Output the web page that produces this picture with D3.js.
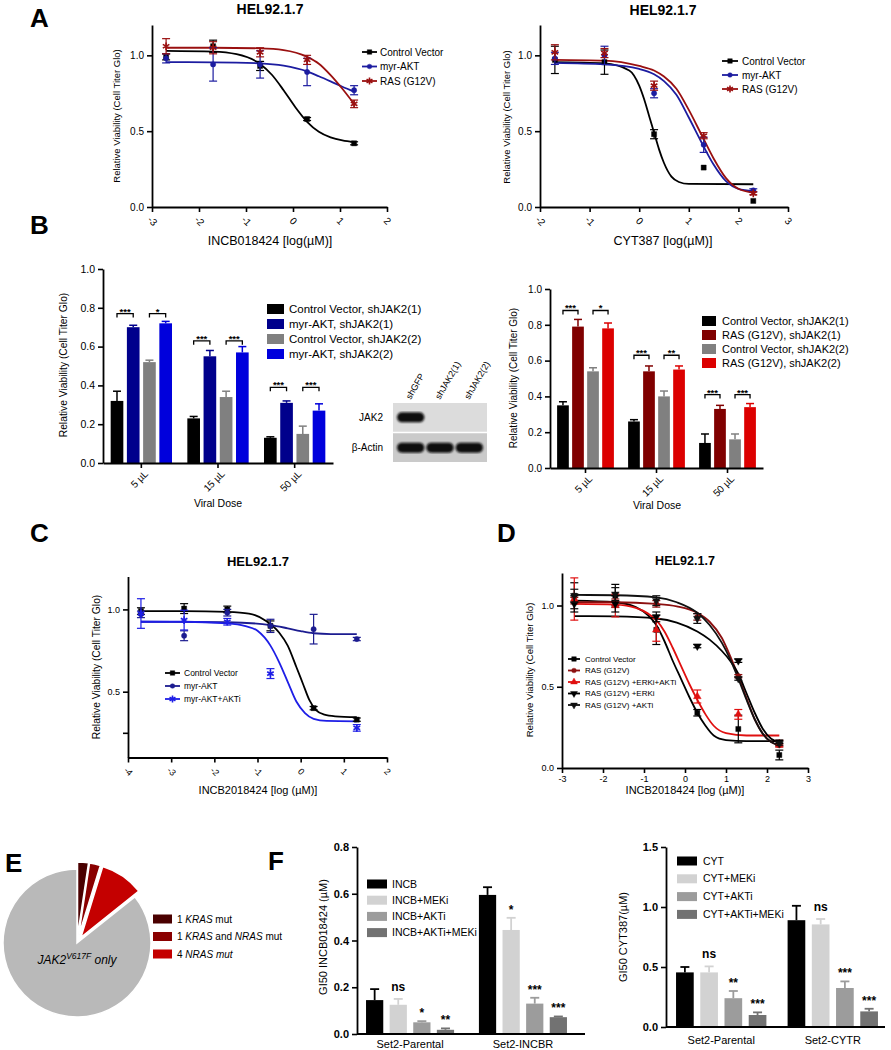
<!DOCTYPE html>
<html>
<head>
<meta charset="utf-8">
<script src="https://cdn.jsdelivr.net/npm/d3@7"></script>
<style>
  body { margin: 0; background: #fff; }
  svg { display: block; }
</style>
</head>
<body>
<svg width="891" height="1050" font-family="'Liberation Sans', Arial, sans-serif"></svg>
<script>
const FONT = "'Liberation Sans', Arial, sans-serif";
const svg = d3.select('svg');

// ---------- A: dose response (INCB018424 / CYT387) ----------
const aDoseLeft = [-2.7, -1.7, -0.7, 0.3, 1.3];
const aLeftCtrl = [0.99, 1.06, 0.93, 0.58, 0.42];
const aLeftCtrlErr = [0.02, 0.04, 0.03, 0.01, 0.01];
const aLeftAkt = [0.98, 0.94, 0.94, 0.89, 0.77];
const aLeftAktErr = [0.03, 0.11, 0.09, 0.09, 0.03];
const aLeftRas = [1.06, 1.05, 1.02, 0.97, 0.68];
const aLeftRasErr = [0.05, 0.04, 0.03, 0.03, 0.025];
const aLeftCtrlFit = [[-2.7, 1.03], [-1.7, 1.025], [-1.2, 1.008], [-0.7, 0.943], [-0.45, 0.872], [-0.2, 0.77], [0.05, 0.658], [0.3, 0.562], [0.55, 0.496], [0.8, 0.459], [1.05, 0.439], [1.3, 0.429]];
const aLeftAktFit = [[-2.7, 0.955], [-1.7, 0.954], [-0.7, 0.947], [-0.2, 0.932], [0.3, 0.894], [0.55, 0.862], [0.8, 0.828], [1.05, 0.793], [1.3, 0.761]];
const aLeftRasFit = [[-2.7, 1.05], [-1.7, 1.05], [-0.7, 1.046], [-0.2, 1.035], [0.3, 0.99], [0.55, 0.945], [0.8, 0.87], [1.05, 0.78], [1.3, 0.68]];

const aDoseRight = [-1.7, -0.7, 0.3, 1.3, 2.3];
const aRightCtrl = [0.97, 0.955, 0.48, 0.26, 0.04];
const aRightCtrlErr = [0.09, 0.08, 0.03, 0, 0];
const aRightAkt = [0.98, 1.0, 0.75, 0.41, 0.11];
const aRightAktErr = [0.04, 0.06, 0.03, 0.05, 0.01];
const aRightRas = [1.02, 1.015, 0.80, 0.47, 0.09];
const aRightRasErr = [0.05, 0.03, 0.03, 0.02, 0.01];
const aRightCtrlFit = [[-1.7, 0.955], [-0.7, 0.947], [-0.2, 0.9], [0, 0.8], [0.1, 0.71], [0.2, 0.6], [0.3, 0.49], [0.4, 0.38], [0.5, 0.29], [0.65, 0.2], [0.8, 0.165], [1.0, 0.152], [2.3, 0.15]];
const aRightAktFit = [[-1.7, 0.95], [-0.7, 0.94], [0, 0.91], [0.3, 0.875], [0.5, 0.83], [0.75, 0.74], [1.0, 0.59], [1.25, 0.43], [1.5, 0.28], [1.75, 0.17], [2.0, 0.12], [2.3, 0.105]];
const aRightRasFit = [[-1.7, 0.97], [-0.7, 0.965], [0, 0.93], [0.3, 0.9], [0.5, 0.86], [0.75, 0.78], [1.0, 0.64], [1.25, 0.48], [1.5, 0.32], [1.75, 0.19], [2.0, 0.12], [2.3, 0.095]];

// ---------- B: viral dose bars ----------
const viralDoses = ['5 µL', '15 µL', '50 µL'];
const bLeftSeries = ['Control Vector, shJAK2(1)', 'myr-AKT, shJAK2(1)', 'Control Vector, shJAK2(2)', 'myr-AKT, shJAK2(2)'];
const bLeftValues = [[0.32, 0.23, 0.13], [0.70, 0.55, 0.31], [0.52, 0.34, 0.15], [0.72, 0.57, 0.27]];
const bLeftErrors = [[0.05, 0.01, 0.005], [0.01, 0.03, 0.01], [0.01, 0.03, 0.04], [0.01, 0.03, 0.035]];
const bLeftStars = [['***', '*'], ['***', '***'], ['***', '***']];
const bLeftBracket = [0.77, 0.63, 0.39];

const bRightSeries = ['Control Vector, shJAK2(1)', 'RAS (G12V), shJAK2(1)', 'Control Vector, shJAK2(2)', 'RAS (G12V), shJAK2(2)'];
const bRightValues = [[0.35, 0.26, 0.14], [0.79, 0.54, 0.33], [0.54, 0.40, 0.16], [0.78, 0.55, 0.34]];
const bRightErrors = [[0.02, 0.01, 0.05], [0.04, 0.03, 0.02], [0.02, 0.03, 0.03], [0.03, 0.02, 0.02]];
const bRightStars = [['***', '*'], ['***', '**'], ['***', '***']];
const bRightBracket = [0.88, 0.63, 0.41];

const blotLanes = ['shGFP', 'shJAK2(1)', 'shJAK2(2)'];
const blotRows = ['JAK2', 'β-Actin'];
const blotBands = [[1, 0, 0], [1, 1, 1]];

// ---------- C: myr-AKT +/- AKTi ----------
const cDose = [-3.7, -2.7, -1.7, -0.7, 0.3, 1.3];
const cCtrl = [0.99, 1.005, 1.0, 0.90, 0.40, 0.33];
const cCtrlErr = [0.02, 0.03, 0.02, 0.03, 0.01, 0.01];
const cAkt = [0.97, 0.84, 0.98, 0.90, 0.88, 0.82];
const cAktErr = [0.02, 0.03, 0.02, 0.04, 0.09, 0.01];
const cAktI = [0.975, 0.935, 0.925, 0.61, null, 0.28];
const cAktIErr = [0.09, 0.06, 0.02, 0.03, 0, 0.02];
const cCtrlFit = [[-3.7, 0.99], [-2.7, 0.99], [-1.7, 0.985], [-1.2, 0.975], [-0.8, 0.93], [-0.5, 0.86], [-0.3, 0.78], [-0.1, 0.65], [0.05, 0.55], [0.2, 0.45], [0.35, 0.39], [0.55, 0.36], [0.8, 0.35], [1.3, 0.345]];
const cAktFit = [[-3.7, 0.925], [-1.7, 0.922], [-0.7, 0.905], [-0.3, 0.885], [0, 0.868], [0.3, 0.855], [0.7, 0.85], [1.3, 0.85]];
const cAktIFit = [[-3.7, 0.925], [-2.7, 0.925], [-1.7, 0.915], [-1.3, 0.9], [-1.0, 0.87], [-0.7, 0.78], [-0.5, 0.68], [-0.3, 0.56], [-0.1, 0.44], [0.1, 0.37], [0.3, 0.335], [0.6, 0.322], [1.3, 0.32]];

// ---------- D: RAS +/- ERKi / AKTi ----------
const dDose = [-2.7, -1.7, -0.7, 0.3, 1.3, 2.3];
const dCtrl = [1.06, 1.06, 0.85, 0.34, 0.24, 0.08];
const dCtrlErr = [0.08, 0.07, 0.09, 0.02, 0.085, 0.03];
const dRas = [1.03, 1.02, 1.01, 0.93, 0.565, 0.14];
const dRasErr = [0.02, 0.02, 0.02, 0.02, 0.01, 0.01];
const dRasEA = [1.04, 1.0, 0.85, 0.44, 0.33, 0.15];
const dRasEAErr = [0.13, 0.07, 0.07, 0.04, 0.03, 0.02];
const dRasE = [1.01, 1.01, 0.93, 0.75, 0.66, 0.16];
const dRasEErr = [0.05, 0.05, 0.03, 0.01, 0.01, 0.01];
const dRasA = [1.06, 1.07, 1.03, 0.92, 0.55, 0.15];
const dRasAErr = [0.04, 0.04, 0.03, 0.03, 0.01, 0.01];
const dCtrlFit = [[-2.7, 1.03], [-1.7, 1.02], [-1.2, 0.99], [-0.9, 0.94], [-0.7, 0.88], [-0.5, 0.78], [-0.3, 0.66], [-0.1, 0.55], [0.1, 0.44], [0.3, 0.34], [0.5, 0.26], [0.7, 0.2], [1.0, 0.172], [1.5, 0.165], [2.3, 0.165]];
const dRasFit = [[-2.7, 1.02], [-1.7, 1.02], [-0.7, 1.01], [-0.2, 0.995], [0.3, 0.955], [0.6, 0.9], [0.9, 0.8], [1.1, 0.69], [1.3, 0.565], [1.5, 0.43], [1.7, 0.3], [1.9, 0.21], [2.1, 0.16], [2.3, 0.14]];
const dRasEAFit = [[-2.7, 1.01], [-1.7, 1.005], [-1.2, 0.985], [-0.9, 0.95], [-0.7, 0.91], [-0.5, 0.84], [-0.3, 0.74], [-0.1, 0.63], [0.1, 0.52], [0.3, 0.42], [0.5, 0.33], [0.7, 0.26], [1.0, 0.215], [1.5, 0.2], [2.3, 0.2]];
const dRasEFit = [[-2.7, 0.935], [-1.7, 0.933], [-0.7, 0.92], [-0.2, 0.895], [0.3, 0.84], [0.6, 0.79], [0.9, 0.72], [1.1, 0.66], [1.3, 0.58], [1.5, 0.46], [1.7, 0.34], [1.9, 0.24], [2.1, 0.18], [2.3, 0.16]];
const dRasAFit = [[-2.7, 1.065], [-1.7, 1.063], [-0.7, 1.05], [-0.2, 1.02], [0.3, 0.955], [0.6, 0.88], [0.9, 0.77], [1.1, 0.67], [1.3, 0.55], [1.5, 0.42], [1.7, 0.3], [1.9, 0.21], [2.1, 0.16], [2.3, 0.14]];

// ---------- E: mutation pie ----------
const eCounts = [1, 1, 4, 36];
const eColors = ['#4a0000', '#8a0000', '#c40000', '#b9b9b9'];
const eLegendParts = [
  [['1 ', 0], ['KRAS', 1], [' mut', 0]],
  [['1 ', 0], ['KRAS', 1], [' and ', 0], ['NRAS', 1], [' mut', 0]],
  [['4 ', 0], ['NRAS mut', 1]]
];

// ---------- F: GI50 bars ----------
const fLeftGroups = ['Set2-Parental', 'Set2-INCBR'];
const fLeftSeries = ['INCB', 'INCB+MEKi', 'INCB+AKTi', 'INCB+AKTi+MEKi'];
const fLeftValues = [[0.145, 0.595], [0.125, 0.445], [0.05, 0.13], [0.018, 0.072]];
const fLeftErrors = [[0.047, 0.033], [0.025, 0.052], [0.005, 0.025], [0.006, 0.003]];
const fLeftStars = [['', ''], ['ns', '*'], ['*', '***'], ['**', '***']];

const fRightGroups = ['Set2-Parental', 'Set2-CYTR'];
const fRightSeries = ['CYT', 'CYT+MEKi', 'CYT+AKTi', 'CYT+AKTi+MEKi'];
const fRightValues = [[0.455, 0.89], [0.455, 0.855], [0.24, 0.325], [0.10, 0.13]];
const fRightErrors = [[0.045, 0.12], [0.05, 0.045], [0.06, 0.055], [0.022, 0.022]];
const fRightStars = [['', ''], ['ns', 'ns'], ['**', '***'], ['***', '***']];

// ================= helpers =================
function styleAxis(ax, size, bold) {
  ax.attr('font-family', FONT).attr('font-size', size);
  ax.select('.domain').attr('stroke', '#000').attr('stroke-width', 1.8);
  ax.selectAll('.tick line').attr('stroke', '#000').attr('stroke-width', 1.6);
  ax.selectAll('.tick text').attr('fill', '#000').attr('font-weight', bold ? 'bold' : 'normal');
}

function marker(g, type, color, cx, cy, size, flip) {
  const strokeOnly = type === d3.symbolAsterisk;
  g.append('path')
    .attr('d', d3.symbol().type(type).size(size)())
    .attr('transform', 'translate(' + cx + ',' + cy + ')' + (flip ? ' rotate(180)' : ''))
    .attr('fill', strokeOnly ? 'none' : color)
    .attr('stroke', color)
    .attr('stroke-width', strokeOnly ? 1.6 : 0.4);
}

function label(x, y, s, size, opts = {}) {
  const t = svg.append('text')
    .attr('x', x).attr('y', y)
    .attr('font-size', size)
    .attr('text-anchor', opts.anchor || 'middle')
    .attr('font-weight', opts.bold ? 'bold' : 'normal')
    .attr('fill', '#000')
    .text(s);
  if (opts.rotate) t.attr('transform', 'rotate(' + opts.rotate + ',' + x + ',' + y + ')');
  if (opts.dy) t.attr('dy', opts.dy);
  return t;
}

function dosePanel(p) {
  const g = svg.append('g');
  const x = d3.scaleLinear().domain(p.xDomain).range(p.xRange);
  const y = d3.scaleLinear().domain(p.yDomain).range(p.yRange);

  const xa = g.append('g')
    .attr('transform', 'translate(0,' + p.yRange[0] + ')')
    .call(d3.axisBottom(x).tickValues(d3.range(p.xDomain[0], p.xDomain[1] + 1)).tickSize(5).tickSizeOuter(0).tickFormat(d => String(d)));
  styleAxis(xa, p.tickFont);
  if (p.rotateTicks) {
    xa.selectAll('.tick text')
      .attr('y', 0).attr('dy', '0.35em')
      .attr('text-anchor', 'middle')
      .attr('transform', 'translate(0,14) rotate(45)');
  }

  const ya = g.append('g')
    .attr('transform', 'translate(' + p.xRange[0] + ',0)')
    .call(d3.axisLeft(y).tickValues(p.yTicks).tickSize(5).tickSizeOuter(0)
      .tickFormat(d => p.yTickLabels.includes(d) ? d3.format('.1f')(d) : ''));
  styleAxis(ya, p.tickFont);

  const line = d3.line().x(d => x(d[0])).y(d => y(d[1])).curve(d3.curveMonotoneX);
  p.series.forEach(s => {
    g.append('path')
      .attr('d', line(s.fit))
      .attr('fill', 'none')
      .attr('stroke', s.color)
      .attr('stroke-width', 1.8);
  });

  p.series.forEach(s => {
    const sg = g.append('g');
    p.doses.forEach((dose, i) => {
      const v = s.values[i];
      if (v == null) return;
      const e = s.errors[i];
      const cx = x(dose);
      if (e > 0) {
        sg.append('line').attr('x1', cx).attr('x2', cx)
          .attr('y1', y(v - e)).attr('y2', y(v + e))
          .attr('stroke', s.color).attr('stroke-width', 1.2);
        [v - e, v + e].forEach(w => {
          sg.append('line').attr('x1', cx - 4).attr('x2', cx + 4)
            .attr('y1', y(w)).attr('y2', y(w))
            .attr('stroke', s.color).attr('stroke-width', 1.2);
        });
      }
      marker(sg, s.symbol, s.color, cx, y(v), s.size || 26, s.flip);
    });
  });

  const L = p.legend;
  p.series.forEach((s, i) => {
    const ly = L.y + i * L.dy;
    g.append('line')
      .attr('x1', L.x).attr('x2', L.x + L.w)
      .attr('y1', ly).attr('y2', ly)
      .attr('stroke', s.color).attr('stroke-width', 1.8);
    marker(g, s.symbol, s.color, L.x + L.w / 2, ly, (s.size || 26) * 0.8, s.flip);
    g.append('text')
      .attr('x', L.tx).attr('y', ly).attr('dy', '0.35em')
      .attr('font-size', L.font)
      .text(s.name);
  });

  label(p.title[0], p.title[1], 'HEL92.1.7', p.title[2], { bold: true });
  label(p.xLabel[0], p.xLabel[1], p.xLabel[2], p.xLabel[3]);
  label(p.yLabel[0], p.yLabel[1], 'Relative Viability (Cell Titer Glo)', p.yLabel[2], { rotate: -90 });
}

function barPanel(p) {
  const g = svg.append('g');
  const x0 = d3.scaleBand().domain(p.groups).range(p.xRange).paddingInner(p.padIn).paddingOuter(p.padOut);
  const x1 = d3.scaleBand().domain(d3.range(p.series.length)).range([0, x0.bandwidth()]).paddingInner(p.barPad);
  const y = d3.scaleLinear().domain(p.yDomain).range(p.yRange);
  const barX = (gi, si) => x0(p.groups[gi]) + x1(si);

  p.series.forEach((name, si) => {
    const sg = g.append('g');
    const col = p.colors[si];
    p.values[si].forEach((v, gi) => {
      const e = p.errors[si][gi];
      const cx = barX(gi, si) + x1.bandwidth() / 2;
      sg.append('line').attr('x1', cx).attr('x2', cx)
        .attr('y1', y(v)).attr('y2', y(v + e))
        .attr('stroke', col).attr('stroke-width', p.errW);
      sg.append('line').attr('x1', cx - p.cap).attr('x2', cx + p.cap)
        .attr('y1', y(v + e)).attr('y2', y(v + e))
        .attr('stroke', col).attr('stroke-width', p.errW);
      sg.append('rect')
        .attr('x', barX(gi, si)).attr('y', y(v))
        .attr('width', x1.bandwidth()).attr('height', y(p.yDomain[0]) - y(v))
        .attr('fill', col);
    });
  });

  const ya = g.append('g')
    .attr('transform', 'translate(' + p.xRange[0] + ',0)')
    .call(d3.axisLeft(y).tickValues(p.yTicks).tickSize(5).tickSizeOuter(0).tickFormat(d3.format('.1f')));
  styleAxis(ya, p.tickFont, p.boldTicks);

  if (p.groupTicks) {
    const xa = g.append('g')
      .attr('transform', 'translate(0,' + p.yRange[0] + ')')
      .call(d3.axisBottom(x0).tickSize(5).tickSizeOuter(0));
    styleAxis(xa, p.groupFont);
    xa.selectAll('.tick text')
      .attr('y', 0).attr('dy', '0.35em')
      .attr('text-anchor', 'end')
      .attr('transform', 'translate(5,9) rotate(-45)');
  } else {
    g.append('line')
      .attr('x1', p.xRange[0]).attr('x2', p.axisEnd)
      .attr('y1', p.yRange[0]).attr('y2', p.yRange[0])
      .attr('stroke', '#000').attr('stroke-width', 1.8);
    p.groups.forEach(gr => {
      g.append('text')
        .attr('x', x0(gr) + x0.bandwidth() / 2).attr('y', p.groupLabelY)
        .attr('text-anchor', 'middle').attr('font-size', p.groupFont)
        .text(gr);
    });
  }

  // significance brackets between bar pairs (0,1) and (2,3)
  if (p.brackets) {
    p.brackets.forEach((h, gi) => {
      [[0, 1], [2, 3]].forEach((pair, k) => {
        const xa = barX(gi, pair[0]) + x1.bandwidth() / 2;
        const xb = barX(gi, pair[1]) + x1.bandwidth() / 2;
        const yy = y(h);
        g.append('path')
          .attr('d', 'M' + xa + ',' + (yy + 4) + 'V' + yy + 'H' + xb + 'V' + (yy + 4))
          .attr('fill', 'none').attr('stroke', '#000').attr('stroke-width', 1.3);
        g.append('text')
          .attr('x', (xa + xb) / 2).attr('y', yy + 1)
          .attr('text-anchor', 'middle').attr('font-size', p.starFont).attr('font-weight', 'bold')
          .text(p.stars[gi][k]);
      });
    });
  }

  // stars above error bars
  if (p.barStars) {
    p.barStars.forEach((row, si) => {
      row.forEach((s, gi) => {
        if (!s) return;
        const v = p.values[si][gi] + p.errors[si][gi];
        g.append('text')
          .attr('x', barX(gi, si) + x1.bandwidth() / 2)
          .attr('y', y(v) - (s === 'ns' ? 8 : 4))
          .attr('text-anchor', 'middle').attr('font-size', p.starFont).attr('font-weight', 'bold')
          .text(s);
      });
    });
  }

  const L = p.legend;
  p.series.forEach((name, i) => {
    const ly = L.y + i * L.dy;
    g.append('rect')
      .attr('x', L.x).attr('y', ly - L.h / 2)
      .attr('width', L.w).attr('height', L.h)
      .attr('fill', p.colors[i]);
    g.append('text')
      .attr('x', L.tx).attr('y', ly).attr('dy', '0.35em')
      .attr('font-size', L.font).text(name);
  });

  label(p.yLabel[0], p.yLabel[1], p.yLabel[2], p.yLabel[3], { rotate: -90 });
  if (p.xTitle) label(p.xTitle[0], p.xTitle[1], p.xTitle[2], p.xTitle[3]);
}

// ================= panel letters =================
[['A', 30, 27], ['B', 30, 234], ['C', 30, 542], ['D', 497, 542], ['E', 5, 872], ['F', 268, 870]]
  .forEach(d => label(d[1], d[2], d[0], 26, { anchor: 'start', bold: true }));

// ================= A =================
dosePanel({
  xDomain: [-3, 2], xRange: [152, 387], yDomain: [0, 1.2], yRange: [207, 25],
  yTicks: [0, 0.5, 1.0], yTickLabels: [0, 0.5, 1.0], tickFont: 10, rotateTicks: true,
  doses: aDoseLeft,
  series: [
    { name: 'Control Vector', color: '#000000', symbol: d3.symbolSquare, values: aLeftCtrl, errors: aLeftCtrlErr, fit: aLeftCtrlFit },
    { name: 'myr-AKT', color: '#1c1ca0', symbol: d3.symbolCircle, values: aLeftAkt, errors: aLeftAktErr, fit: aLeftAktFit, size: 22 },
    { name: 'RAS (G12V)', color: '#9a1010', symbol: d3.symbolAsterisk, values: aLeftRas, errors: aLeftRasErr, fit: aLeftRasFit, size: 40 }
  ],
  legend: { x: 362, y: 52, dy: 14.5, w: 15, tx: 380, font: 10 },
  title: [270, 14, 14], xLabel: [270, 245, 'INCB018424 [log(µM)]', 12.5], yLabel: [120, 116, 9.5]
});

dosePanel({
  xDomain: [-2, 3], xRange: [540, 788], yDomain: [0, 1.2], yRange: [207, 25],
  yTicks: [0, 0.5, 1.0], yTickLabels: [0, 0.5, 1.0], tickFont: 10, rotateTicks: true,
  doses: aDoseRight,
  series: [
    { name: 'Control Vector', color: '#000000', symbol: d3.symbolSquare, values: aRightCtrl, errors: aRightCtrlErr, fit: aRightCtrlFit },
    { name: 'myr-AKT', color: '#1c1ca0', symbol: d3.symbolCircle, values: aRightAkt, errors: aRightAktErr, fit: aRightAktFit, size: 22 },
    { name: 'RAS (G12V)', color: '#9a1010', symbol: d3.symbolAsterisk, values: aRightRas, errors: aRightRasErr, fit: aRightRasFit, size: 40 }
  ],
  legend: { x: 722, y: 61, dy: 14, w: 16, tx: 742, font: 10 },
  title: [663, 15, 14], xLabel: [663, 245, 'CYT387 [log(µM)]', 12.5], yLabel: [510, 117, 9.5]
});

// ================= B =================
barPanel({
  groups: viralDoses, series: bLeftSeries, values: bLeftValues, errors: bLeftErrors,
  colors: ['#000000', '#00008c', '#808080', '#0000dc'],
  xRange: [103, 333], padIn: 0.2, padOut: 0.1, barPad: 0.22,
  yDomain: [0, 1], yRange: [463, 269], yTicks: d3.range(0, 1.01, 0.2), tickFont: 10.5,
  errW: 1.5, cap: 4, groupTicks: true, groupFont: 10,
  brackets: bLeftBracket, stars: bLeftStars, starFont: 9.5,
  legend: { x: 267, y: 309, dy: 15, w: 17, h: 10, tx: 289, font: 11.5 },
  yLabel: [67, 365, 'Relative Viability (Cell Titer Glo)', 10.3],
  xTitle: [218, 507, 'Viral Dose', 10.5]
});

barPanel({
  groups: viralDoses, series: bRightSeries, values: bRightValues, errors: bRightErrors,
  colors: ['#000000', '#800000', '#808080', '#dc0000'],
  xRange: [550, 763], padIn: 0.2, padOut: 0.1, barPad: 0.22,
  yDomain: [0, 1], yRange: [468, 289], yTicks: d3.range(0, 1.01, 0.2), tickFont: 10,
  errW: 1.5, cap: 4, groupTicks: true, groupFont: 10,
  brackets: bRightBracket, stars: bRightStars, starFont: 9.5,
  legend: { x: 702, y: 321, dy: 14, w: 14, h: 10, tx: 722, font: 11 },
  yLabel: [517, 378, 'Relative Viability (Cell Titer Glo)', 10],
  xTitle: [657, 509, 'Viral Dose', 10.5]
});

// western blot inset
(function () {
  const defs = svg.append('defs');
  defs.append('filter').attr('id', 'blur').append('feGaussianBlur').attr('stdDeviation', 1.1);
  const lane = d3.scaleBand().domain(blotLanes).range([396, 484]);
  const rowY = d3.scaleBand().domain(blotRows).range([403, 462]).paddingInner(0.05);
  const g = svg.append('g');
  blotRows.forEach((r, ri) => {
    g.append('rect')
      .attr('x', 393).attr('y', rowY(r))
      .attr('width', 94).attr('height', rowY.bandwidth())
      .attr('fill', ri === 0 ? '#dcdcdc' : '#cacaca');
    blotLanes.forEach((l, li) => {
      if (!blotBands[ri][li]) return;
      g.append('rect')
        .attr('x', lane(l) + 1).attr('y', rowY(r) + rowY.bandwidth() / 2 - 5)
        .attr('width', lane.bandwidth() - 2).attr('height', 10).attr('rx', 5)
        .attr('fill', '#0c0c0c').attr('filter', 'url(#blur)');
    });
    label(383, rowY(r) + rowY.bandwidth() / 2, r, 10, { anchor: 'end', dy: '0.35em' });
  });
  blotLanes.forEach(l => {
    label(lane(l) + lane.bandwidth() / 2, 400, l, 9, { anchor: 'start', rotate: -60 });
  });
})();

// ================= C =================
dosePanel({
  xDomain: [-4, 2], xRange: [128, 387], yDomain: [0.1, 1.2], yRange: [757.5, 576.5],
  yTicks: [0.25, 0.5, 1.0], yTickLabels: [0.5, 1.0], tickFont: 9, rotateTicks: true,
  doses: cDose,
  series: [
    { name: 'Control Vector', color: '#000000', symbol: d3.symbolSquare, values: cCtrl, errors: cCtrlErr, fit: cCtrlFit },
    { name: 'myr-AKT', color: '#1c1c90', symbol: d3.symbolCircle, values: cAkt, errors: cAktErr, fit: cAktFit, size: 22 },
    { name: 'myr-AKT+AKTi', color: '#1e1ee6', symbol: d3.symbolAsterisk, values: cAktI, errors: cAktIErr, fit: cAktIFit, size: 40 }
  ],
  legend: { x: 165, y: 673, dy: 13, w: 15, tx: 184, font: 8.5 },
  title: [258, 566, 13], xLabel: [258, 794, 'INCB2018424 [log (µM)]', 11], yLabel: [100, 667, 10.3]
});

// ================= D =================
dosePanel({
  xDomain: [-3, 3], xRange: [562, 808], yDomain: [0, 1.2], yRange: [768, 573],
  yTicks: [0, 0.5, 1.0], yTickLabels: [0, 0.5, 1.0], tickFont: 9, rotateTicks: false,
  doses: dDose,
  series: [
    { name: 'Control Vector', color: '#000000', symbol: d3.symbolSquare, values: dCtrl, errors: dCtrlErr, fit: dCtrlFit },
    { name: 'RAS (G12V)', color: '#8c1010', symbol: d3.symbolCircle, values: dRas, errors: dRasErr, fit: dRasFit, size: 22 },
    { name: 'RAS (G12V) +ERKi+AKTi', color: '#e01010', symbol: d3.symbolTriangle, values: dRasEA, errors: dRasEAErr, fit: dRasEAFit, size: 26 },
    { name: 'RAS (G12V) +ERKi', color: '#000000', symbol: d3.symbolTriangle, values: dRasE, errors: dRasEErr, fit: dRasEFit, size: 26, flip: true },
    { name: 'RAS (G12V) +AKTi', color: '#111111', symbol: d3.symbolTriangle, values: dRasA, errors: dRasAErr, fit: dRasAFit, size: 26, flip: true }
  ],
  legend: { x: 568, y: 659, dy: 11.5, w: 12, tx: 585, font: 8 },
  title: [685, 565, 12.5], xLabel: [685, 794, 'INCB2018424 [log (µM)]', 11], yLabel: [533, 670, 9.6]
});

// ================= E =================
(function () {
  const g = svg.append('g').attr('transform', 'translate(77,943)');
  const arcs = d3.pie().sort(null).value(d => d)(eCounts);
  const arc = d3.arc().innerRadius(0).outerRadius(74);
  g.selectAll('path').data(arcs).join('path')
    .attr('d', arc)
    .attr('fill', (d, i) => eColors[i])
    .attr('stroke', '#fff').attr('stroke-width', 1.5)
    .attr('transform', (d, i) => {
      if (i === eCounts.length - 1) return null;
      const a = (d.startAngle + d.endAngle) / 2;
      return 'translate(' + (Math.sin(a) * 7) + ',' + (-Math.cos(a) * 7) + ')';
    });
  const t = svg.append('text').attr('x', 77).attr('y', 964).attr('text-anchor', 'middle')
    .attr('font-size', 12).attr('font-style', 'italic');
  t.append('tspan').text('JAK2');
  t.append('tspan').attr('font-size', 8.5).attr('dy', -5).text('V617F');
  t.append('tspan').attr('dy', 5).text(' only');

  eLegendParts.forEach((parts, i) => {
    const ly = 919 + i * 17.5;
    svg.append('rect').attr('x', 153).attr('y', ly - 4.5).attr('width', 19).attr('height', 9).attr('fill', eColors[i]);
    const lt = svg.append('text').attr('x', 177).attr('y', ly).attr('dy', '0.35em').attr('font-size', 10);
    parts.forEach(pt => lt.append('tspan').attr('font-style', pt[1] ? 'italic' : 'normal').text(pt[0]));
  });
})();

// ================= F =================
barPanel({
  groups: fLeftGroups, series: fLeftSeries, values: fLeftValues, errors: fLeftErrors,
  colors: ['#000000', '#d2d2d2', '#9c9c9c', '#727272'],
  xRange: [357, 576], padIn: 0.22, padOut: 0.08, barPad: 0.27, axisEnd: 585,
  yDomain: [0, 0.8], yRange: [1034, 847], yTicks: d3.range(0, 0.81, 0.2), tickFont: 11, boldTicks: true,
  errW: 1.8, cap: 4.5, groupTicks: false, groupFont: 11, groupLabelY: 1048,
  barStars: fLeftStars, starFont: 12,
  legend: { x: 367, y: 884, dy: 16.2, w: 20, h: 9, tx: 392, font: 10.5 },
  yLabel: [327, 937, 'GI50 INCB018424 (µM)', 11]
});

barPanel({
  groups: fRightGroups, series: fRightSeries, values: fRightValues, errors: fRightErrors,
  colors: ['#000000', '#d2d2d2', '#9c9c9c', '#727272'],
  xRange: [666, 888], padIn: 0.19, padOut: 0.09, barPad: 0.27, axisEnd: 885,
  yDomain: [0, 1.5], yRange: [1027, 847], yTicks: [0, 0.5, 1.0, 1.5], tickFont: 11, boldTicks: true,
  errW: 1.8, cap: 4.5, groupTicks: false, groupFont: 11, groupLabelY: 1044,
  barStars: fRightStars, starFont: 12,
  legend: { x: 677, y: 861, dy: 17.8, w: 20, h: 9, tx: 703, font: 10.5 },
  yLabel: [627, 937, 'GI50 CYT387(µM)', 11]
});
</script>
</body>
</html>
